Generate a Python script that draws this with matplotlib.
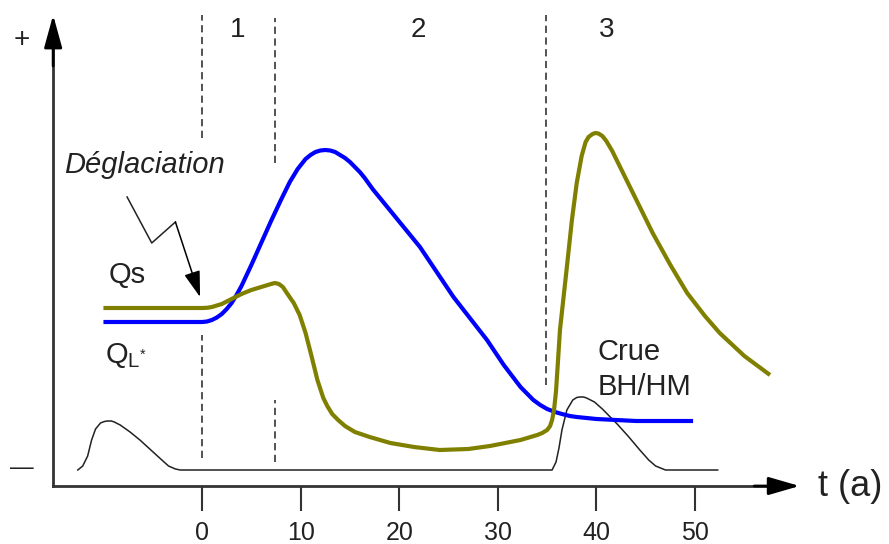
import numpy as np
import matplotlib.pyplot as plt

plt.rcParams['font.family'] = ['Liberation Sans', 'DejaVu Sans']

# courbes (t en années, ordonnée arbitraire)
t_ql = [-10, 0, 0.5, 1.0, 1.5, 2.0, 2.5, 3.0, 3.5, 4.0, 5, 6, 7, 8, 8.9, 9.7, 10.5, 11.0,
        11.5, 12.0, 12.5, 13.0, 13.5, 14.0, 14.5, 15.0, 15.5, 16.0, 16.5, 17.3, 19.7, 22.1,
        25.5, 28.9, 30.6, 32.3, 33.0, 33.6, 34.3, 35.0, 35.8, 36.5, 37.3, 38, 40, 44, 49.8]
ql = [16.4, 16.4, 16.45, 16.6, 16.85, 17.2, 17.7, 18.3, 19.1, 20.0, 22.1, 24.3, 26.5, 28.6,
      30.4, 31.7, 32.7, 33.1, 33.4, 33.55, 33.6, 33.55, 33.4, 33.1, 32.8, 32.4, 31.9, 31.4,
      30.8, 29.7, 26.8, 23.9, 18.9, 14.6, 12.1, 9.9, 9.2, 8.6, 8.1, 7.7, 7.4, 7.2, 7.0,
      6.9, 6.7, 6.5, 6.5]

t_qs = [-10, 0, 0.5, 1, 1.5, 2, 3, 4, 5, 6, 6.5, 7, 7.4, 7.8, 8.2, 8.6, 9.3, 9.9, 10.5,
        11.1, 11.7, 12.3, 12.7, 13.2, 13.8, 14.5, 15.5, 17, 19.1, 21.5, 24.1, 27, 29.2,
        32.3, 34.0, 34.5, 35.0, 35.3, 35.5, 35.7, 35.9, 36.1, 36.3, 37.0, 37.5, 38.0, 38.5,
        38.9, 39.2, 39.6, 39.9, 40.2, 40.6, 41.0, 41.6, 42.4, 44.0, 45.7, 47.5, 49.2, 51,
        52.5, 55, 57.6]
qs = [17.8, 17.8, 17.82, 17.9, 18.05, 18.2, 18.7, 19.2, 19.6, 19.9, 20.05, 20.2, 20.3,
      20.2, 19.9, 19.3, 18.3, 17.1, 15.3, 13.0, 10.6, 8.8, 8.0, 7.2, 6.6, 6.0, 5.4, 4.9,
      4.3, 3.9, 3.6, 3.7, 4.0, 4.6, 5.1, 5.3, 5.6, 6.0, 6.6, 7.6, 9.5, 12.5, 15.6, 21.9,
      26.5, 30.3, 33.0, 34.4, 34.9, 35.2, 35.3, 35.25, 35.0, 34.5, 33.5, 31.9, 28.7, 25.3,
      22.1, 19.3, 17.0, 15.3, 13.0, 11.1]

t_crue = [-12.6, -12.1, -11.6, -11.2, -10.8, -10.3, -9.9, -9.6, -9.2, -8.9, -8.3, -7.3,
          -6.3, -5.3, -4.3, -3.4, -2.7, -2.2, 35.5, 35.9, 36.2, 36.5, 37.0, 37.6, 38.0,
          38.3, 38.7, 39.0, 39.8, 40.6, 41.4, 42.1, 43.2, 44.4, 45.3, 46.0, 47.0, 52.3]
crue = [1.6, 2.0, 3.0, 4.6, 5.7, 6.3, 6.45, 6.5, 6.5, 6.4, 6.1, 5.4, 4.6, 3.7, 2.8, 2.0,
        1.7, 1.6, 1.6, 2.4, 3.8, 5.6, 7.6, 8.6, 8.85, 8.9, 8.9, 8.8, 8.4, 7.7, 6.9, 6.2,
        5.0, 3.6, 2.6, 2.0, 1.6, 1.6]

ticks = [0, 10, 20, 30, 40, 50]
phases = ['1', '2', '3']
phase_x = [3.65, 21.9, 41.0]

fig = plt.figure(figsize=(8.89, 5.44), dpi=100)
ax = fig.add_axes([0, 0, 1, 1])
ax.set_xlim(-20.49, 69.67)
ax.set_ylim(-5.8, 48.6)

axc = '#333333'
txt = '#222222'
x0 = -15.1
# axes fléchés
for s in ['top', 'right']:
    ax.spines[s].set_visible(False)
ax.spines['bottom'].set_position(('data', 0))
ax.spines['bottom'].set_bounds(x0, 58)
ax.spines['left'].set_position(('data', x0))
ax.spines['left'].set_bounds(0, 44)
for s in ['bottom', 'left']:
    ax.spines[s].set_linewidth(2)
    ax.spines[s].set_color(axc)
ax.set_yticks([])
ax.set_xticks(ticks)
ax.tick_params(axis='x', length=18, width=1.5, color=axc, pad=7, labelsize=18,
               labelcolor=txt)
ax.annotate('', xy=(60.6, 0), xytext=(56, 0),
            arrowprops=dict(arrowstyle='-|>,head_length=1.9,head_width=0.55',
                            color='black', lw=2, shrinkA=0, shrinkB=0))
ax.annotate('', xy=(x0, 47.1), xytext=(x0, 42),
            arrowprops=dict(arrowstyle='-|>,head_length=2.0,head_width=0.55',
                            color='black', lw=2, shrinkA=0, shrinkB=0))

# limites des phases
dash = dict(color='#444444', lw=1.3, ls=(0, (4, 2.5)))
ax.plot([0, 0], [34.8, 47.1], **dash)
ax.plot([0, 0], [2.8, 15.1], **dash)
ax.plot([7.4, 7.4], [32.3, 46.8], **dash)
ax.plot([7.4, 7.4], [2.4, 8.6], **dash)
ax.plot([34.9, 34.9], [10.1, 47.1], **dash)

ax.plot(t_crue, crue, color=txt, lw=1.1)
ax.plot(t_ql, ql, color='#0000ff', lw=3.0, solid_capstyle='butt', solid_joinstyle='round')
ax.plot(t_qs, qs, color='#808000', lw=3.0, solid_capstyle='butt', solid_joinstyle='round')

for lab, xp in zip(phases, phase_x):
    ax.text(xp, 45.6, lab, fontsize=20, ha='center', va='center', color=txt)

ax.text(-18.3, 44.6, '+', fontsize=20, ha='center', va='center', color=txt)
ax.text(-18.3, 1.8, '—', fontsize=17, ha='center', va='center', color=txt)
ax.text(-5.8, 32.1, 'Déglaciation', fontsize=21, style='italic', ha='center',
        va='center', color=txt)
ax.text(-9.5, 21.1, 'Qs', fontsize=21, ha='left', va='center', color=txt)
ax.text(-9.8, 13.1, r'$\mathregular{Q_{L^{*}}}$', fontsize=21, ha='left', va='center',
        color=txt)
ax.text(40.1, 13.4, 'Crue', fontsize=21, ha='left', va='center', color=txt)
ax.text(40.1, 9.9, 'BH/HM', fontsize=21, ha='left', va='center', color=txt)
ax.text(62.5, 0, 't (a)', fontsize=26, ha='left', va='center', color=txt)

# flèche en zigzag
ax.plot([-7.6, -5.1, -2.7], [28.9, 24.3, 26.4], color=txt, lw=1.1)
ax.annotate('', xy=(-0.2, 18.9), xytext=(-2.7, 26.4),
            arrowprops=dict(arrowstyle='-|>,head_length=1.6,head_width=0.5',
                            color='black', lw=1.1, shrinkA=0, shrinkB=0))

fig.savefig('out.png', dpi=100)
